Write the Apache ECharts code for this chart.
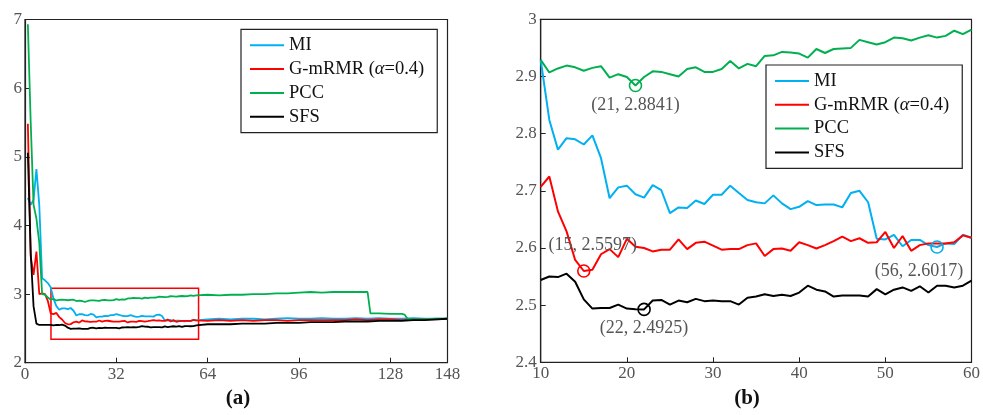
<!DOCTYPE html>
<html>
<head>
<meta charset="utf-8">
<script src="https://cdn.jsdelivr.net/npm/echarts@6/dist/echarts.min.js"></script>
<style>html,body{margin:0;padding:0;background:#fff}#c{width:983px;height:415px}</style>
</head>
<body>
<div id="c"></div>
<script>
// ---------- data ----------
const seriesNames = ['MI', 'G-mRMR (α=0.4)', 'PCC', 'SFS'];
const colors = ['#00B0F0', '#FF0000', '#00B050', '#000000'];

// zoomed range (panel b): number of features 10..60
const zoomX = [10,11,12,13,14,15,16,17,18,19,20,21,22,23,24,25,26,27,28,29,30,31,32,33,34,35,36,37,38,39,40,41,42,43,44,45,46,47,48,49,50,51,52,53,54,55,56,57,58,59,60];
const miZoom = [2.929,2.824,2.772,2.792,2.790,2.781,2.797,2.757,2.687,2.706,2.709,2.694,2.688,2.710,2.701,2.661,2.671,2.670,2.683,2.677,2.693,2.693,2.709,2.696,2.684,2.680,2.678,2.692,2.678,2.668,2.672,2.682,2.675,2.676,2.676,2.671,2.696,2.700,2.680,2.616,2.615,2.623,2.603,2.614,2.614,2.605,2.6017,2.608,2.607,2.623,2.618];
const gmZoom = [2.707,2.725,2.664,2.629,2.579,2.5597,2.562,2.589,2.598,2.584,2.616,2.602,2.600,2.594,2.597,2.597,2.615,2.598,2.609,2.611,2.604,2.597,2.598,2.598,2.605,2.608,2.586,2.598,2.599,2.595,2.610,2.605,2.599,2.605,2.612,2.620,2.612,2.617,2.609,2.610,2.628,2.600,2.621,2.595,2.605,2.608,2.608,2.608,2.610,2.622,2.618];
const pccZoom = [2.929,2.907,2.914,2.919,2.916,2.910,2.915,2.918,2.898,2.904,2.899,2.8841,2.899,2.909,2.908,2.904,2.900,2.913,2.916,2.908,2.908,2.913,2.927,2.914,2.922,2.918,2.936,2.937,2.943,2.942,2.940,2.933,2.948,2.941,2.948,2.949,2.950,2.964,2.960,2.956,2.960,2.968,2.967,2.963,2.968,2.972,2.968,2.971,2.980,2.974,2.982];
const sfsZoom = [2.544,2.550,2.549,2.555,2.541,2.510,2.494,2.495,2.495,2.501,2.494,2.493,2.4925,2.508,2.509,2.501,2.508,2.505,2.511,2.507,2.508,2.507,2.507,2.501,2.513,2.515,2.519,2.516,2.518,2.516,2.522,2.534,2.527,2.524,2.515,2.517,2.517,2.517,2.515,2.528,2.519,2.527,2.531,2.525,2.533,2.522,2.534,2.534,2.531,2.534,2.543];

// full range (panel a): first features 1..9
const earlyX = [1,2,3,4,5,6,7,8,9];
const miEarly  = [4.40,4.30,4.37,4.82,4.30,3.23,3.20,3.16,3.10];
const gmEarly  = [5.48,3.55,3.28,3.62,3.00,3.01,3.00,2.90,2.72];
const pccEarly = [6.93,5.50,4.30,4.10,3.75,3.00,2.99,2.95,2.92];
const sfsEarly = [5.06,3.60,2.82,2.57,2.55,2.55,2.55,2.55,2.55];

// full range (panel a): features beyond 60
const lateX = [64,68,72,76,80,84,88,92,96,100,104,108,112,116,120,124,128,132,136,140,144,148];
const miLate  = [2.63,2.64,2.63,2.64,2.64,2.63,2.64,2.65,2.64,2.64,2.65,2.64,2.64,2.65,2.64,2.65,2.64,2.64,2.65,2.64,2.64,2.64];
const gmLate  = [2.61,2.62,2.61,2.62,2.61,2.62,2.62,2.61,2.62,2.62,2.62,2.62,2.62,2.63,2.62,2.63,2.63,2.62,2.63,2.63,2.63,2.64];
const sfsLate = [2.56,2.56,2.56,2.57,2.57,2.57,2.58,2.58,2.58,2.59,2.59,2.59,2.60,2.60,2.60,2.61,2.61,2.61,2.62,2.62,2.63,2.64];
const pccLateX = [64,68,72,76,80,84,88,92,96,100,104,108,112,116,120,121,124,128,132,133,134,136,140,144,148];
const pccLate  = [2.99,2.98,2.99,2.99,3.00,3.00,3.01,3.01,3.02,3.03,3.02,3.03,3.03,3.03,3.03,2.72,2.72,2.71,2.71,2.70,2.64,2.63,2.63,2.64,2.64];

// highlighted points in panel b: [seriesIndex, x, y]
const marks = [[2,21,2.8841],[1,15,2.5597],[3,22,2.4925],[0,56,2.6017]];
// zoom rectangle drawn in panel a: [x0, x1, y0, y1]
const zoomBox = [9.1, 60.8, 2.34, 3.085];

const xTicksA = [0,32,64,96,128,148];

// ---------- build ----------
const FONT = 'Liberation Serif';
function pairs(xs, ys){ return xs.map((x,i)=>[x, ys[i]]); }
const zoomVals = [miZoom, gmZoom, pccZoom, sfsZoom];
const earlyVals = [miEarly, gmEarly, pccEarly, sfsEarly];
const lateSets = [[lateX, miLate],[lateX, gmLate],[pccLateX, pccLate],[lateX, sfsLate]];

const labelOffsets = [[0,20],[9,-26],[0,19],[-18,24]];

const series = [];
for (let i = 0; i < 4; i++) {
  const full = pairs(earlyX, earlyVals[i]).concat(pairs(zoomX, zoomVals[i]), pairs(lateSets[i][0], lateSets[i][1]));
  const s = {
    name: seriesNames[i], type: 'line', xAxisIndex: 0, yAxisIndex: 0,
    data: full, showSymbol: false, symbol: 'none', animation: false,
    lineStyle: { color: colors[i], width: 1.8 }, itemStyle: { color: colors[i] }, z: 3
  };
  if (i === 3) {
    s.markArea = {
      silent: true,
      itemStyle: { color: 'rgba(0,0,0,0)', borderColor: '#FF0000', borderWidth: 1.5 },
      data: [[{ coord: [zoomBox[0], zoomBox[2]] }, { coord: [zoomBox[1], zoomBox[3]] }]]
    };
  }
  series.push(s);
}
for (let i = 0; i < 4; i++) {
  const s = {
    name: seriesNames[i], type: 'line', xAxisIndex: 1, yAxisIndex: 1,
    data: pairs(zoomX, zoomVals[i]), showSymbol: false, symbol: 'none', animation: false,
    lineStyle: { color: colors[i], width: 2 }, itemStyle: { color: colors[i] }, z: 3
  };
  const mk = marks.map((m, k) => [m, k]).filter(([m]) => m[0] === i);
  if (mk.length) {
    s.markPoint = {
      silent: true, animation: false,
      data: mk.map(([m, k]) => ({
        coord: [m[1], m[2]], name: '(' + m[1] + ', ' + m[2] + ')',
        symbol: 'circle', symbolSize: 12,
        itemStyle: { color: 'rgba(0,0,0,0)', borderColor: colors[i], borderWidth: 1.6 },
        label: { show: true, position: 'inside', offset: labelOffsets[k], formatter: '{b}',
                 color: '#555', fontFamily: FONT, fontSize: 18 }
      }))
    };
  }
  series.push(s);
}

const axisLabelStyle = { color: '#555', fontFamily: FONT, fontSize: 17 };
const axisLine = { show: true, lineStyle: { color: '#222', width: 1.2 } };
const axisTick = { show: true, inside: true, length: 5, lineStyle: { color: '#222', width: 1 } };

const legendBase = {
  orient: 'vertical', icon: 'rect', itemWidth: 34, itemHeight: 2, itemGap: 4, itemGap: 3.8,
  backgroundColor: '#fff', borderColor: '#222', borderWidth: 1.2,
  padding: [6, 13, 6, 9], itemStyle: { borderWidth: 0 },
  textStyle: { fontFamily: FONT, fontSize: 18.5, color: '#111', lineHeight: 20,
    rich: { i: { fontFamily: FONT, fontSize: 18.5, fontStyle: 'italic', color: '#111', lineHeight: 20 } } },
  formatter: n => n.replace('α', '{i|α}'),
  data: seriesNames, selectedMode: false
};

const titleRich = { p: { fontFamily: FONT, fontSize: 21, color: '#111' }, b: { fontFamily: FONT, fontSize: 21, fontWeight: 'bold', color: '#111' } };

const option = {
  animation: false,
  backgroundColor: '#fff',
  grid: [
    { left: 25, top: 19.5, width: 422.5, height: 343.2, show: true, borderColor: '#222', borderWidth: 1.2, backgroundColor: 'transparent' },
    { left: 540.7, top: 19.3, width: 432.7, height: 343, show: true, borderColor: '#222', borderWidth: 1.2, backgroundColor: 'transparent' }
  ],
  xAxis: [
    { type: 'value', gridIndex: 0, min: 0, max: 148, interval: 32, axisLine, axisTick, splitLine: { show: false },
      axisLabel: Object.assign({ margin: 3, customValues: xTicksA }, axisLabelStyle) },
    { type: 'value', gridIndex: 1, min: 10, max: 60, interval: 10, axisLine, axisTick, splitLine: { show: false },
      axisLabel: Object.assign({ margin: 3 }, axisLabelStyle) }
  ],
  yAxis: [
    { type: 'value', gridIndex: 0, min: 2, max: 7, interval: 1, axisLine, axisTick, splitLine: { show: false },
      axisLabel: Object.assign({ margin: 3 }, axisLabelStyle) },
    { type: 'value', gridIndex: 1, min: 2.4, max: 3, interval: 0.1, axisLine, axisTick, splitLine: { show: false },
      axisLabel: Object.assign({ margin: 4 }, axisLabelStyle) }
  ],
  legend: [
    Object.assign({ left: 241, top: 29.3 }, legendBase),
    Object.assign({ left: 766, top: 65 }, legendBase)
  ],
  title: [
    { text: '{p|(}{b|a}{p|)}', left: 238, top: 388, textAlign: 'center', padding: 0, textStyle: { rich: titleRich } },
    { text: '{p|(}{b|b}{p|)}', left: 747, top: 388, textAlign: 'center', padding: 0, textStyle: { rich: titleRich } }
  ],
  series
};

const chart = echarts.init(document.getElementById('c'), null, { renderer: 'canvas' });
chart.setOption(option);
</script>
</body>
</html>
